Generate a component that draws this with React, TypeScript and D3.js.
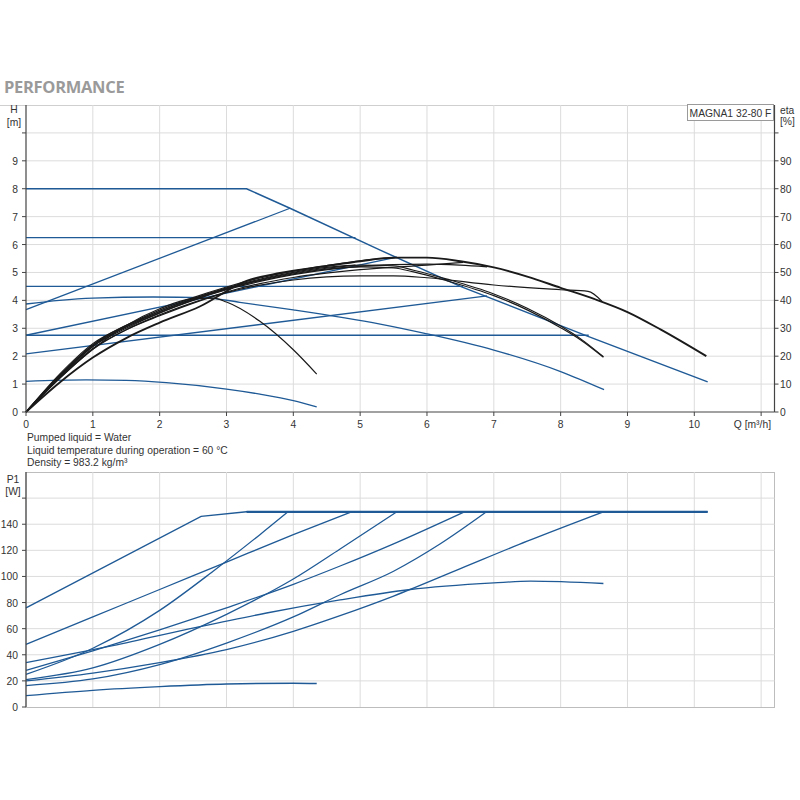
import * as d3 from 'd3';

type Pt = [number, number];

// axis ticks
const Q_TICKS = [0, 1, 2, 3, 4, 5, 6, 7, 8, 9, 10];
const Q_GRID = [1, 2, 3, 4, 5, 6, 7, 8, 9, 10, 11];
const H_TICKS = [0, 1, 2, 3, 4, 5, 6, 7, 8, 9, 10];
const H_LABELS = ['0', '1', '2', '3', '4', '5', '6', '7', '8', '9', ''];
const ETA_TICKS = [0, 10, 20, 30, 40, 50, 60, 70, 80, 90, 100];
const ETA_LABELS = ['0', '10', '20', '30', '40', '50', '60', '70', '80', '90', ''];
const P_TICKS = [0, 20, 40, 60, 80, 100, 120, 140, 160];
const P_LABELS = ['0', '20', '40', '60', '80', '100', '120', '140', ''];

const NOTES = [
  'Pumped liquid = Water',
  'Liquid temperature during operation = 60 °C',
  'Density = 983.2 kg/m³',
];
const PUMP_NAME = 'MAGNA1 32-80 F';

// head curves H [m] vs Q [m³/h]
const H_MAX: Pt[] = [[0, 8], [3.3, 8], [3.95, 7.3], [5.3, 5.8], [6.5, 4.5], [8.4, 2.72], [10.2, 1.08]];
const H_CP_625: Pt[] = [[0, 6.25], [4.93, 6.25]];
const H_CP_45: Pt[] = [[0, 4.5], [6.54, 4.5]];
const H_CP_275: Pt[] = [[0, 2.75], [8.42, 2.75]];
const H_PP_A: Pt[] = [[0, 3.67], [3.95, 7.3]];
const H_PP_B: Pt[] = [[0, 2.75], [5.55, 5.55]];
const H_PP_C: Pt[] = [[0, 2.08], [6.9, 4.16]];
const H_CC_41: Pt[] = [[0, 3.87], [0.5, 4.0], [1, 4.08], [1.9, 4.12], [2.65, 4.1], [3.2, 3.93], [4, 3.66], [5.3, 3.15], [6, 2.8], [7, 2.22], [8, 1.45], [8.65, 0.8]];
const H_CC_12: Pt[] = [[0, 1.1], [0.9, 1.15], [1.5, 1.13], [2.1, 1.05], [3, 0.82], [3.5, 0.64], [4, 0.41], [4.35, 0.18]];

// efficiency curves eta [%]
const ETA_MAX: Pt[] = [[0, 0], [0.5, 10.5], [1, 19.5], [1.5, 26.5], [2, 32], [2.6, 37.8], [3.3, 47], [3.8, 49.8], [4.5, 52.3], [5, 54], [5.5, 55.3], [6, 55.3], [6.5, 54], [7, 51.8], [7.5, 48.5], [8, 44.5], [8.5, 40.5], [9, 35.8], [9.5, 29.5], [10.18, 20]];
const ETA_PP_B: Pt[] = [[0, 0], [0.5, 13.5], [1, 24.5], [1.5, 31], [2, 36.5], [2.5, 41], [3, 44.8], [3.5, 48], [4, 50.5], [4.5, 52.5], [5, 54.2], [5.55, 55.3]];
const ETA_PP_C: Pt[] = [[0, 0], [0.5, 12.8], [1, 23.5], [1.5, 30], [2, 35.5], [2.5, 40], [3, 43.8], [3.5, 46.8], [4, 49.2], [4.6, 51.3], [5, 52.2], [5.5, 52.8], [6, 53], [6.5, 52.6], [6.9, 52]];
const ETA_CP_625: Pt[] = [[0, 0], [0.5, 13], [1, 24], [1.5, 30.5], [2, 36], [2.5, 40.5], [3, 44.2], [3.5, 47.3], [4, 49.8], [4.5, 51.5], [4.93, 52.6]];
const ETA_CP_45: Pt[] = [[0, 0], [0.5, 12.3], [1, 22.8], [1.5, 29.5], [2, 34.8], [2.5, 39.2], [3, 43], [3.5, 46], [4, 48.2], [5, 51], [6, 52.6], [6.54, 53.6]];
const ETA_PP_A: Pt[] = [[0, 0], [0.5, 12], [1, 22.5], [1.5, 29.5], [2, 34.5], [3, 42.8], [4, 47.3], [5, 48.8], [5.5, 48.8], [6, 48.1], [7, 45.5], [8, 43.8], [8.41, 43.2], [8.62, 39.6]];
const ETA_CP_275: Pt[] = [[0, 0], [0.5, 13], [1, 24], [2, 36], [3, 44.5], [4, 50], [4.5, 51.8], [5, 52.6], [5.5, 52.4], [5.8, 50.8], [6.3, 47.6], [7, 42.3], [7.5, 37.2], [8, 30.8], [8.3, 26.2], [8.64, 19.8]];
const ETA_CC_41: Pt[] = [[0, 0], [0.5, 12.5], [1, 23.5], [2, 35.5], [3, 44], [4, 49.5], [4.5, 51.2], [5, 52], [5.5, 51.6], [5.8, 50.2], [6.3, 47], [7, 41.7], [7.5, 36.6], [8, 30.2], [8.3, 25.8], [8.64, 19.6]];
const ETA_CC_12: Pt[] = [[0, 0], [0.5, 12], [1, 22.5], [1.5, 31], [2, 37], [2.5, 40.6], [2.8, 40.8], [3, 39.4], [3.5, 32.5], [4, 22.3], [4.35, 13.6]];

// power curves P1 [W]
const P_MAX: Pt[] = [[0, 76], [2.62, 146], [3.3, 149.5], [10.2, 149.5]];
const P_CP_625: Pt[] = [[0, 48], [1, 69], [2, 90], [3, 111], [4, 132], [4.87, 149.5]];
const P_CP_45: Pt[] = [[0, 28], [1, 43], [2, 59], [3, 76], [4, 94], [4.7, 108], [5.5, 125], [6.56, 149.5]];
const P_CP_275: Pt[] = [[0, 20], [1, 26], [2, 34], [3, 44], [4, 58], [4.7, 70], [5.5, 85], [6.5, 106], [7.5, 127], [8.64, 149.5]];
const P_PP_A: Pt[] = [[0, 25], [1, 45], [2, 74], [2.8, 104], [3.5, 132], [3.92, 149.5]];
const P_PP_B: Pt[] = [[0, 21], [1, 30], [2, 48], [3, 71], [4, 98], [4.7, 121], [5.55, 149.5]];
const P_PP_C: Pt[] = [[0, 16.4], [1, 21.5], [2, 32.5], [3, 49], [4, 69], [4.7, 86], [5.5, 104], [6.2, 125], [6.89, 149.5]];
const P_CC_41: Pt[] = [[0, 34], [1.3, 47], [2.55, 61], [3.6, 72], [4.7, 82], [5.75, 90], [7, 95], [7.55, 96.4], [8.64, 94.6]];
const P_CC_12: Pt[] = [[0, 8.7], [1, 12.8], [2, 15.6], [3, 17.6], [4, 18.2], [4.35, 18]];

const HEAD_CURVES = [H_CP_625, H_CP_45, H_CP_275, H_PP_A, H_PP_B, H_PP_C, H_CC_41, H_CC_12];
const ETA_CURVES = [ETA_PP_B, ETA_PP_C, ETA_CP_625, ETA_CP_45, ETA_PP_A, ETA_CP_275, ETA_CC_41, ETA_CC_12];
const POWER_CURVES = [P_CP_625, P_CP_45, P_CP_275, P_PP_A, P_PP_B, P_PP_C, P_CC_41, P_CC_12];

const BLUE = '#1f5a96';
const BLACK = '#1a1a1a';
const GRID = '#dcdcdc';
const AXIS = '#444';
const FONT = '"Liberation Sans", Arial, sans-serif';

const LEFT = 26;
const RIGHT = 774.5;
const TOP1 = 105;
const BOT1 = 412;
const TOP2 = 472;
const BOT2 = 707;

export default function App() {
  const x = d3.scaleLinear().domain([0, 11.2]).range([LEFT, RIGHT]);
  const yH = d3.scaleLinear().domain([0, 11]).range([BOT1, TOP1]);
  const yEta = d3.scaleLinear().domain([0, 110]).range([BOT1, TOP1]);
  const yP = d3.scaleLinear().domain([0, 180]).range([BOT2, TOP2]);

  const smooth = (ys: d3.ScaleLinear<number, number>) =>
    d3.line<Pt>().x((d) => x(d[0])).y((d) => ys(d[1])).curve(d3.curveMonotoneX);
  const straight = (ys: d3.ScaleLinear<number, number>) =>
    d3.line<Pt>().x((d) => x(d[0])).y((d) => ys(d[1]));

  const hLine = smooth(yH);
  const etaLine = smooth(yEta);
  const pLine = smooth(yP);
  const pStraight = straight(yP);

  const txt = { fontFamily: FONT, fontSize: 10.3, fill: '#333' };

  return (
    <svg width={800} height={800} style={{ position: 'absolute', left: 0, top: 0, background: '#fff' }}>
      <text x={4} y={93} fontFamily='"Open Sans", sans-serif' fontWeight={700} fontSize={16.5} fill='#9a9a9a' letterSpacing={-0.3}>
        PERFORMANCE
      </text>
      <line x1={0} x2={RIGHT} y1={TOP1 + 0.5} y2={TOP1 + 0.5} stroke='#cfcfcf' />

      {/* upper chart grid */}
      {Q_GRID.map((q) => (
        <line key={'vg1' + q} x1={x(q)} x2={x(q)} y1={TOP1} y2={BOT1} stroke={GRID} />
      ))}
      {H_TICKS.slice(1).map((h) => (
        <line key={'hg1' + h} x1={LEFT} x2={RIGHT} y1={yH(h)} y2={yH(h)} stroke={GRID} />
      ))}

      {/* head curves */}
      {HEAD_CURVES.map((c, i) => (
        <path key={'h' + i} d={hLine(c) ?? ''} fill='none' stroke={BLUE} strokeWidth={1.3} />
      ))}
      <path d={straight(yH)(H_MAX) ?? ''} fill='none' stroke={BLUE} strokeWidth={1.5} />

      {/* efficiency curves */}
      {ETA_CURVES.map((c, i) => (
        <path key={'e' + i} d={etaLine(c) ?? ''} fill='none' stroke={BLACK} strokeWidth={1.2} />
      ))}
      <path d={etaLine(ETA_MAX) ?? ''} fill='none' stroke={BLACK} strokeWidth={1.9} />

      {/* upper axes */}
      <line x1={LEFT} x2={LEFT} y1={TOP1} y2={BOT1} stroke={AXIS} strokeWidth={1.2} />
      <line x1={RIGHT} x2={RIGHT} y1={TOP1} y2={BOT1} stroke={AXIS} strokeWidth={1.2} />
      <line x1={LEFT} x2={RIGHT} y1={BOT1} y2={BOT1} stroke={AXIS} strokeWidth={1.2} />
      {H_TICKS.map((h, i) => (
        <g key={'ht' + h}>
          <line x1={LEFT - 4} x2={LEFT} y1={yH(h)} y2={yH(h)} stroke={AXIS} />
          <text x={18} y={yH(h) + 4} textAnchor='end' {...txt}>{H_LABELS[i]}</text>
        </g>
      ))}
      {ETA_TICKS.map((e, i) => (
        <g key={'et' + e}>
          <line x1={RIGHT} x2={RIGHT + 4} y1={yEta(e)} y2={yEta(e)} stroke={AXIS} />
          <text x={780} y={yEta(e) + 4} {...txt}>{ETA_LABELS[i]}</text>
        </g>
      ))}
      {Q_TICKS.map((q) => (
        <g key={'qt' + q}>
          <line x1={x(q)} x2={x(q)} y1={BOT1} y2={BOT1 + 4} stroke={AXIS} />
          <text x={x(q)} y={428} textAnchor='middle' {...txt}>{q}</text>
        </g>
      ))}
      <line x1={x(11)} x2={x(11)} y1={BOT1} y2={BOT1 + 4} stroke={AXIS} />
      <text x={771} y={428} textAnchor='end' {...txt}>Q [m³/h]</text>
      <text x={14} y={113} textAnchor='middle' {...txt}>H</text>
      <text x={14} y={126} textAnchor='middle' {...txt}>[m]</text>
      <text x={780} y={114} {...txt}>eta</text>
      <text x={780} y={125} {...txt}>[%]</text>

      {/* pump name box */}
      <rect x={687.5} y={104.5} width={86} height={16} fill='#fff' stroke='#9a9a9a' />
      <text x={730.5} y={116.5} textAnchor='middle' {...txt}>{PUMP_NAME}</text>

      {NOTES.map((n, i) => (
        <text key={'n' + i} x={27} y={441 + i * 12.5} {...txt}>{n}</text>
      ))}

      {/* lower chart */}
      <rect x={LEFT} y={TOP2 + 0.5} width={RIGHT - LEFT} height={BOT2 - TOP2} fill='none' stroke='#bdbdbd' />
      {Q_GRID.map((q) => (
        <line key={'vg2' + q} x1={x(q)} x2={x(q)} y1={TOP2} y2={BOT2} stroke={GRID} />
      ))}
      {P_TICKS.slice(1).map((p) => (
        <line key={'hg2' + p} x1={LEFT} x2={RIGHT} y1={yP(p)} y2={yP(p)} stroke={GRID} />
      ))}
      {POWER_CURVES.map((c, i) => (
        <path key={'p' + i} d={pLine(c) ?? ''} fill='none' stroke={BLUE} strokeWidth={1.3} />
      ))}
      <path d={pStraight(P_MAX) ?? ''} fill='none' stroke={BLUE} strokeWidth={1.4} />
      <path d={pStraight(P_MAX.slice(2)) ?? ''} fill='none' stroke={BLUE} strokeWidth={2.2} />
      <line x1={LEFT} x2={LEFT} y1={TOP2} y2={BOT2} stroke={AXIS} strokeWidth={1.2} />
      {P_TICKS.map((p, i) => (
        <g key={'pt' + p}>
          <line x1={LEFT - 4} x2={LEFT} y1={yP(p)} y2={yP(p)} stroke={AXIS} />
          <text x={18} y={yP(p) + 4} textAnchor='end' {...txt}>{P_LABELS[i]}</text>
        </g>
      ))}
      <text x={13} y={483} textAnchor='middle' {...txt}>P1</text>
      <text x={13} y={495} textAnchor='middle' {...txt}>[W]</text>
    </svg>
  );
}
